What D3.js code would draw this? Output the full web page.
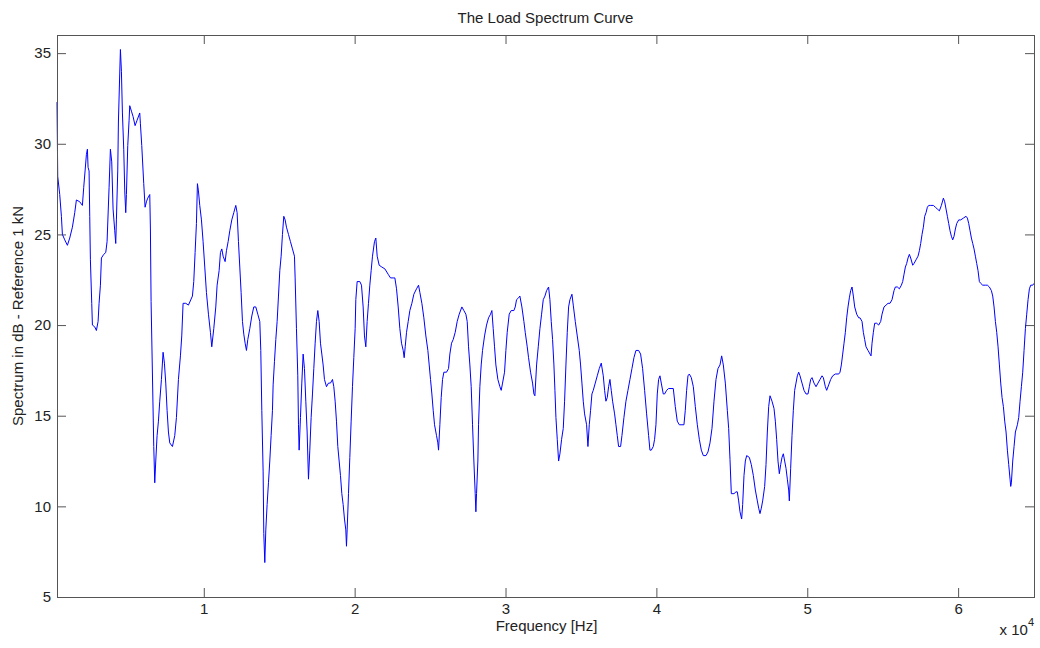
<!DOCTYPE html>
<html lang="en">
<head>
<meta charset="UTF-8">
<title>The Load Spectrum Curve</title>
<script src="https://d3js.org/d3.v7.min.js"></script>
<style>
body { margin: 0; background: #fff; }
svg text {
  font-family: "Liberation Sans", Arial, Helvetica, sans-serif;
  font-size: 15px;
  fill: #222;
}
.frame { fill: none; stroke: #555; stroke-width: 1; }
.axis path { display: none; }
.axis line { stroke: #555; }
.curve { fill: none; stroke: #0000ff; stroke-width: 1; }
</style>
</head>
<body>
<svg width="1040" height="648"></svg>
<script>

// frequency of each spectrum sample (Hz)
var freqHz = [
  270, 318, 451, 562, 628, 783, 959, 1114, 1291, 1446,
  1556, 1777, 1954, 2042, 2131, 2219, 2285, 2330, 2396, 2440,
  2484, 2573, 2617, 2772, 2882, 2993, 3059, 3148, 3214, 3368,
  3501, 3589, 3722, 3810, 3899, 3987, 4098, 4164, 4208, 4296,
  4341, 4429, 4473, 4540, 4606, 4694, 4761, 4827, 4871, 4960,
  5048, 5092, 5203, 5313, 5446, 5578, 5755, 5799, 5888, 6020,
  6109, 6197, 6285, 6418, 6462, 6506, 6595, 6683, 6750, 6816,
  6904, 6993, 7081, 7192, 7302, 7390, 7479, 7567, 7656, 7744,
  7921, 8076, 8186, 8319, 8451, 8540, 8628, 8805, 8982, 9247,
  9335, 9424, 9512, 9578, 9645, 9733, 9844, 9954, 10065, 10175,
  10308, 10440, 10529,
  10662, 10795, 10883, 11016, 11104, 11193, 11281, 11414, 11502, 11613,
  11723, 11856, 11988, 12121, 12209, 12298, 12386, 12474, 12563, 12651,
  12740, 12828, 12916, 13049, 13182, 13314, 13447, 13579, 13712, 13778,
  13845, 13933, 13977, 14044, 14110, 14198, 14287, 14375, 14463, 14552,
  14596, 14685, 14773, 14861, 14950, 15038, 15126, 15215, 15303, 15392,
  15480, 15613, 15745, 15878, 16010, 16055, 16143, 16231, 16276, 16320,
  16408, 16497, 16585, 16673, 16762, 16850, 16939, 17027, 17115, 17204,
  17292, 17381, 17469, 17557, 17646, 17734, 17823, 17911, 17999, 18132,
  18265, 18397, 18530, 18618, 18707, 18795, 18883, 18972, 19060, 19149,
  19237, 19325, 19414, 19458, 19502, 19591, 19679, 19767, 19856, 19944,
  20033, 20077, 20165, 20342, 20453, 20563, 20651, 20740, 20828, 20916,
  21005, 21093, 21182, 21314, 21403,
  21493, 21626, 21803, 22002, 22223, 22377, 22554, 22665, 22775, 22886,
  22996, 23107, 23217, 23283, 23350, 23438, 23549, 23659, 23792, 23924,
  24101, 24234, 24322, 24455, 24587, 24720, 24853, 24941, 25029, 25118,
  25206, 25295, 25427, 25515, 25560, 25648, 25736, 25825, 25913, 26090,
  26223, 26311, 26422, 26532, 26665, 26797, 26930, 27107, 27239, 27372,
  27460, 27549, 27637, 27725, 27814, 27902, 27991, 28035, 28079, 28167,
  28212, 28300, 28388, 28477, 28609, 28742, 28875, 29007, 29096, 29184,
  29272, 29361, 29493, 29626, 29714, 29803, 29935, 30024, 30112, 30245,
  30377, 30554, 30643, 30731, 30864, 30952, 31085, 31217, 31306, 31439,
  31527, 31660, 31792, 31881, 31947,
  32059, 32170, 32280, 32391, 32501, 32612, 32722, 32855, 32943, 33031,
  33120, 33208, 33275, 33341, 33429, 33518, 33606, 33717, 33827, 33915,
  34004, 34092, 34181, 34269, 34402, 34490, 34623, 34755, 34888, 34976,
  35065, 35153, 35241, 35374, 35462, 35551, 35639, 35728, 35816, 35949,
  36081, 36214, 36346, 36479, 36567, 36656, 36744, 36833, 36921, 37009,
  37098, 37230, 37319, 37407, 37496, 37628, 37717, 37849, 37982, 38115,
  38247, 38380, 38512, 38645, 38822, 38954, 39087, 39220, 39352, 39485,
  39573, 39661, 39794, 39882, 39971, 40059, 40148, 40236, 40324, 40457,
  40545, 40678, 40811, 41120, 41253, 41385, 41518, 41695, 41827, 41916,
  42004, 42093, 42181,
  42315, 42448, 42581, 42713, 42846, 42978, 43111, 43288, 43420, 43553,
  43686, 43818, 43951, 44083, 44216, 44327, 44437, 44570, 44702, 44791,
  44879, 44967, 45144, 45277, 45365, 45454, 45542, 45653, 45719, 45807,
  45896, 45984, 46161, 46293, 46426, 46559, 46691, 46780, 46868, 46956,
  47045, 47177, 47266, 47354, 47443, 47531, 47664, 47796, 47885, 47973,
  48061, 48150, 48238, 48327, 48415, 48503, 48592, 48680, 48769, 48813,
  48901, 48990, 49078, 49166, 49255, 49343, 49432, 49520, 49653, 49785,
  49918, 50050, 50139, 50227, 50316, 50448, 50581, 50713, 50846, 50979,
  51067, 51200, 51288, 51421, 51553, 51686, 51863, 52084, 52172, 52260,
  52349, 52437, 52526, 52614, 52702, 52791, 52879, 52968, 53056, 53145,
  53277, 53410, 53498,
  53631, 53719, 53807, 53896, 54028, 54161, 54227, 54294, 54382, 54470,
  54603, 54736, 54868, 54957, 55089, 55222, 55354, 55487, 55620, 55752,
  55841, 55973, 56106, 56238, 56327, 56415, 56504, 56592, 56680, 56769,
  56857, 56990, 57078, 57211, 57343, 57432, 57520, 57609, 57697, 57785,
  57874, 57962, 58051, 58183, 58360, 58493, 58625, 58758, 58890, 59023,
  59111, 59200, 59288, 59377, 59465, 59553, 59642, 59730, 59819, 59907,
  60040, 60173, 60349, 60526, 60614, 60703, 60791, 60879, 60968, 61056,
  61145, 61233, 61321, 61410, 61498, 61631, 61808, 61940, 62073, 62205,
  62294, 62382, 62471, 62559, 62647, 62736, 62824, 62913, 63001, 63089,
  63178, 63266, 63355, 63443, 63487, 63531, 63620, 63708, 63797, 63929,
  64018, 64106, 64194, 64283, 64371, 64460, 64548, 64636, 64725, 64813,
  64946, 65030
];

// spectrum level (dB re 1 kN), same order as freqHz
var levelDb = [
  32.3, 28.2, 27.2, 26.0, 25.0, 24.7, 24.4, 24.8, 25.4, 26.2,
  26.9, 26.8, 26.6, 27.6, 28.5, 29.4, 29.7, 28.7, 28.5, 26.0,
  23.6, 21.2, 20.0, 19.9, 19.7, 20.2, 21.2, 22.2, 23.7, 23.9,
  24.0, 24.6, 27.6, 29.7, 29.0, 26.4, 25.2, 24.5, 25.8, 28.5,
  31.2, 33.9, 35.2, 34.0, 31.7, 29.7, 27.4, 26.2, 27.2, 29.9,
  31.3, 32.1, 31.8, 31.5, 31.0, 31.3, 31.7, 31.1, 29.9, 27.8,
  26.5, 26.8, 27.0, 27.2, 25.3, 21.3, 17.3, 13.3, 11.3, 12.5,
  13.9, 14.7, 15.8, 17.0, 18.5, 17.9, 16.8, 15.3, 14.1, 13.5,
  13.3, 13.9, 14.9, 17.0, 18.3, 19.4, 21.2, 21.2, 21.1, 21.6,
  22.4, 24.0, 25.6, 27.8, 27.4, 26.6, 25.8, 24.6, 23.2, 21.8,
  20.6, 19.6, 18.8,
  19.8, 21.0, 22.2, 23.0, 24.0, 24.2, 23.8, 23.5, 24.1, 24.6,
  25.2, 25.8, 26.2, 26.6, 26.2, 24.6, 23.2, 21.8, 20.2, 19.5,
  19.0, 18.6, 19.2, 19.8, 20.5, 21.0, 21.0, 20.6, 20.2, 18.6,
  15.3, 11.9, 8.5, 6.9, 8.7, 10.1, 11.3, 12.5, 13.9, 15.3,
  16.7, 18.0, 19.2, 20.2, 21.6, 23.0, 23.8, 25.0, 26.0, 25.8,
  25.4, 25.0, 24.6, 24.2, 23.8, 22.6, 19.8, 17.2, 14.5, 13.1,
  14.9, 16.8, 18.4, 17.6, 15.8, 14.1, 11.5, 13.1, 14.9, 16.2,
  17.6, 19.0, 20.2, 20.8, 20.2, 19.0, 18.4, 17.8, 17.0, 16.6,
  16.8, 16.8, 17.0, 16.6, 15.8, 14.7, 13.3, 12.5, 11.7, 10.7,
  10.1, 9.3, 8.7, 7.8, 8.7, 10.7, 12.7, 14.7, 16.6, 18.2,
  19.8, 21.4, 22.4, 22.4, 22.2, 21.0, 19.4, 18.8, 20.2, 21.2,
  22.2, 23.0, 23.8, 24.6, 24.8,
  23.8, 23.3, 23.2, 23.1, 22.8, 22.6, 22.6, 22.6, 22.0, 21.0,
  19.8, 19.0, 18.6, 18.2, 18.8, 19.6, 20.2, 20.8, 21.2, 21.7,
  22.0, 22.2, 21.8, 21.2, 20.4, 19.4, 18.6, 17.8, 17.0, 16.2,
  15.3, 14.5, 13.9, 13.5, 13.1, 14.5, 16.0, 17.0, 17.4, 17.4,
  17.6, 18.4, 19.0, 19.2, 19.6, 20.2, 20.6, 21.0, 20.8, 20.6,
  20.2, 18.8, 17.8, 16.6, 14.5, 12.5, 10.7, 9.7, 10.7, 12.5,
  14.5, 16.6, 17.8, 18.6, 19.4, 20.0, 20.4, 20.6, 20.8, 19.8,
  18.8, 17.8, 17.0, 16.6, 16.4, 16.8, 17.4, 18.6, 19.6, 20.6,
  20.8, 20.8, 21.0, 21.4, 21.5, 21.6, 21.0, 20.2, 19.6, 18.8,
  18.2, 17.4, 16.8, 16.2, 16.1,
  17.8, 18.8, 19.8, 20.6, 21.4, 21.6, 21.9, 22.1, 21.4, 20.2,
  19.2, 17.8, 16.4, 14.9, 13.7, 12.5, 12.9, 13.7, 14.3, 15.8,
  17.8, 19.6, 21.0, 21.4, 21.7, 21.1, 20.2, 19.4, 18.6, 17.8,
  16.8, 15.8, 15.1, 14.5, 13.3, 14.5, 15.3, 16.2, 16.4, 16.8,
  17.2, 17.6, 17.9, 17.2, 16.4, 15.8, 16.0, 16.6, 17.0, 16.4,
  15.8, 15.1, 14.5, 13.9, 13.3, 13.3, 13.9, 14.9, 15.8, 16.4,
  17.0, 17.6, 18.2, 18.6, 18.6, 18.4, 17.6, 16.4, 15.1, 13.9,
  13.1, 13.1, 13.3, 13.7, 14.5, 16.2, 17.0, 17.2, 16.8, 16.2,
  16.2, 16.4, 16.5, 16.5, 15.5, 14.7, 14.5, 14.5, 14.5, 15.3,
  16.4, 17.2, 17.3,
  17.1, 16.6, 15.5, 14.5, 13.7, 13.1, 12.8, 12.8, 13.0, 13.5,
  14.3, 15.8, 17.0, 17.6, 17.8, 18.3, 17.8, 16.8, 15.3, 14.3,
  12.6, 10.7, 10.7, 10.8, 10.8, 10.3, 9.7, 9.3, 10.1, 11.7,
  12.5, 12.8, 12.7, 12.3, 11.7, 10.9, 10.3, 9.9, 9.6, 9.9,
  10.3, 11.1, 12.3, 14.1, 15.5, 16.1, 15.8, 15.4, 14.7, 13.7,
  12.5, 11.8, 12.3, 12.7, 12.9, 12.5, 12.1, 11.5, 10.9, 10.3,
  12.1, 13.9, 15.3, 16.4, 16.8, 17.2, 17.4, 17.2, 16.8, 16.4,
  16.2, 16.2, 16.6, 17.0, 17.1, 16.8, 16.6, 16.8, 17.0, 17.2,
  17.1, 16.6, 16.4, 16.7, 17.0, 17.2, 17.3, 17.3, 17.4, 17.8,
  18.4, 19.0, 19.6, 20.4, 21.0, 21.5, 21.9, 22.1, 21.6, 21.0,
  20.6, 20.4, 20.4,
  20.2, 19.6, 19.2, 18.8, 18.6, 18.4, 18.3, 19.0, 19.6, 20.1,
  20.1, 20.0, 20.2, 20.6, 21.0, 21.1, 21.2, 21.2, 21.4, 21.9,
  22.1, 22.1, 22.0, 22.2, 22.4, 22.8, 23.2, 23.4, 23.7, 23.9,
  23.7, 23.3, 23.4, 23.6, 23.8, 24.1, 24.5, 25.0, 25.4, 26.0,
  26.2, 26.5, 26.6, 26.6, 26.6, 26.5, 26.4, 26.3, 26.6, 27.0,
  26.8, 26.4, 26.0, 25.6, 25.2, 24.9, 24.7, 24.9, 25.3, 25.6,
  25.8, 25.8, 25.9, 26.0, 25.9, 25.6, 25.2, 24.8, 24.5, 24.2,
  23.8, 23.4, 23.0, 22.4, 22.3, 22.2, 22.2, 22.2, 22.1, 21.9,
  21.6, 21.0, 20.2, 19.6, 18.8, 17.8, 16.8, 16.0, 15.5, 14.7,
  14.1, 13.1, 12.3, 11.5, 11.1, 11.3, 12.5, 13.3, 14.1, 14.5,
  14.9, 15.8, 16.6, 17.4, 18.6, 19.8, 20.6, 21.4, 22.0, 22.2,
  22.2, 22.3
];

var xTicks = [10000, 20000, 30000, 40000, 50000, 60000];
var xTickLabels = ["1", "2", "3", "4", "5", "6"];
var yTicks = [5, 10, 15, 20, 25, 30, 35];
var yLimits = [5, 36];

var svg = d3.select("svg"),
    margin = {top: 35, right: 6, bottom: 51, left: 57},
    width = +svg.attr("width") - margin.left - margin.right,
    height = +svg.attr("height") - margin.top - margin.bottom,
    g = svg.append("g").attr("transform", "translate(" + margin.left + "," + margin.top + ")");

var x = d3.scaleLinear()
    .domain(d3.extent(freqHz))
    .range([0, width]);

var y = d3.scaleLinear()
    .domain(yLimits)
    .range([height, 0]);

var points = d3.zip(freqHz, levelDb);

// matlab style: ticks point inward on all four sides
g.append("g")
    .attr("class", "axis")
    .attr("transform", "translate(0," + height + ")")
    .call(d3.axisBottom(x).tickValues(xTicks)
      .tickFormat(function(d, i) { return xTickLabels[i]; })
      .tickSizeInner(-9).tickSizeOuter(0).tickPadding(6));

g.append("g")
    .attr("class", "axis")
    .call(d3.axisTop(x).tickValues(xTicks).tickFormat("")
      .tickSizeInner(-9).tickSizeOuter(0));

g.append("g")
    .attr("class", "axis")
    .call(d3.axisLeft(y).tickValues(yTicks)
      .tickSizeInner(-9).tickSizeOuter(0).tickPadding(6));

g.append("g")
    .attr("class", "axis")
    .attr("transform", "translate(" + width + ",0)")
    .call(d3.axisRight(y).tickValues(yTicks).tickFormat("")
      .tickSizeInner(-9).tickSizeOuter(0));

g.append("path")
    .datum(points)
    .attr("class", "curve")
    .attr("d", d3.line()
      .x(function(d) { return x(d[0]); })
      .y(function(d) { return y(d[1]); }));

g.append("rect")
    .attr("class", "frame")
    .attr("x", 0.5)
    .attr("y", 0.5)
    .attr("width", width)
    .attr("height", height);

// labels
svg.append("text")
    .attr("x", margin.left + width / 2)
    .attr("y", 23)
    .attr("text-anchor", "middle")
    .text("The Load Spectrum Curve");

svg.append("text")
    .attr("x", margin.left + width / 2 + 1)
    .attr("y", 631)
    .attr("text-anchor", "middle")
    .text("Frequency [Hz]");

svg.append("text")
    .attr("transform", "translate(23," + (margin.top + height / 2) + ") rotate(-90)")
    .attr("text-anchor", "middle")
    .text("Spectrum in dB - Reference 1 kN");

var expo = svg.append("text")
    .attr("x", margin.left + width)
    .attr("y", 635)
    .attr("text-anchor", "end");
expo.append("tspan").text("x 10");
expo.append("tspan")
    .attr("dy", -9)
    .style("font-size", "11px")
    .text("4");

</script>
</body>
</html>
